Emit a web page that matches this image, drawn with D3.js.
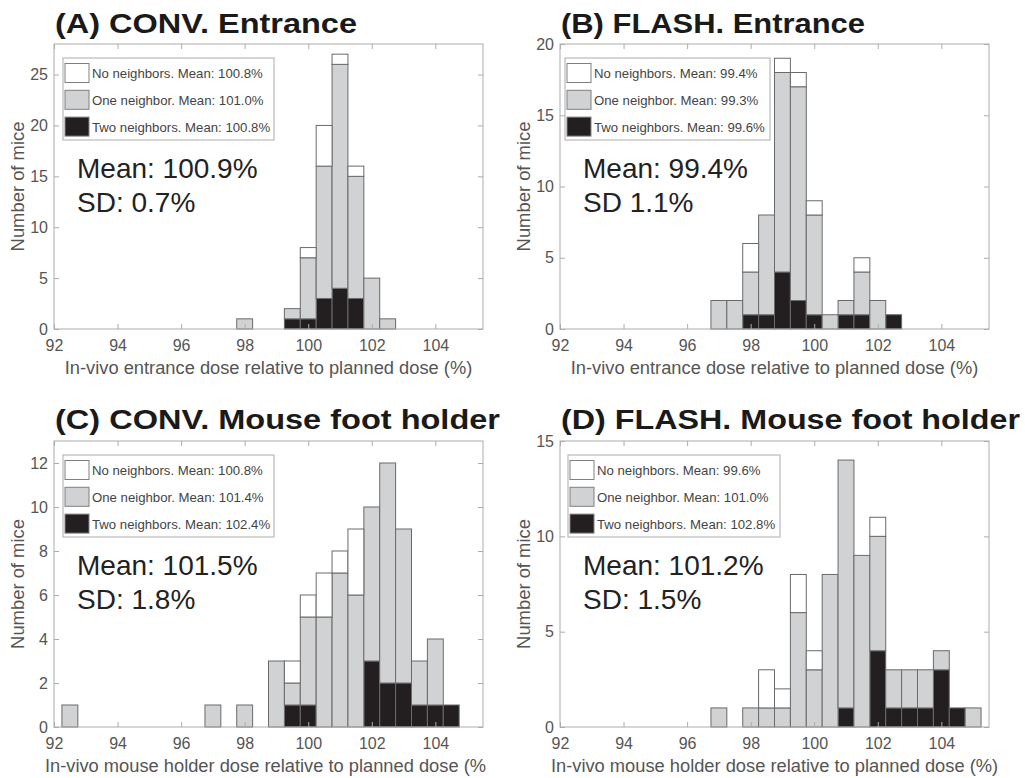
<!DOCTYPE html>
<html>
<head>
<meta charset="utf-8">
<script src="https://cdn.jsdelivr.net/npm/d3@7"></script>
<style>
  body { margin: 0; background: #fff; }
  text { font-family: "Liberation Sans", Arial, Helvetica, sans-serif; }
</style>
</head>
<body>
<div id="chart"></div>
<script>
// bin centers (%), bin width 0.5
const binsA = [98, 99.5, 100, 100.5, 101, 101.5, 102, 102.5];
const twoA  = [0, 1, 1, 3, 4, 3, 0, 0];
const oneA  = [1, 1, 6, 13, 22, 12, 5, 1];
const noneA = [0, 0, 1, 4, 1, 1, 0, 0];

const binsB = [97, 97.5, 98, 98.5, 99, 99.5, 100, 100.5, 101, 101.5, 102, 102.5];
const twoB  = [0, 0, 1, 1, 4, 2, 1, 0, 1, 1, 0, 1];
const oneB  = [2, 2, 3, 7, 14, 15, 7, 1, 1, 3, 2, 0];
const noneB = [0, 0, 2, 0, 1, 1, 1, 0, 0, 1, 0, 0];

const binsC = [92.5, 97, 98, 99, 99.5, 100, 100.5, 101, 101.5, 102, 102.5, 103, 103.5, 104, 104.5];
const twoC  = [0, 0, 0, 0, 1, 1, 0, 0, 0, 3, 2, 2, 1, 1, 1];
const oneC  = [1, 1, 1, 3, 1, 4, 5, 7, 6, 7, 10, 7, 2, 3, 0];
const noneC = [0, 0, 0, 0, 1, 1, 2, 1, 3, 0, 0, 0, 0, 0, 0];

const binsD = [97, 98, 98.5, 99, 99.5, 100, 100.5, 101, 101.5, 102, 102.5, 103, 103.5, 104, 104.5, 105];
const twoD  = [0, 0, 0, 0, 0, 0, 0, 1, 0, 4, 1, 1, 1, 3, 1, 0];
const oneD  = [1, 1, 1, 1, 6, 3, 8, 13, 9, 6, 2, 2, 2, 1, 0, 1];
const noneD = [0, 0, 2, 1, 2, 1, 0, 0, 0, 1, 0, 0, 0, 0, 0, 0];

const xTicks = [92, 94, 96, 98, 100, 102, 104];
const titles = ["(A) CONV. Entrance", "(B) FLASH. Entrance", "(C) CONV. Mouse foot holder", "(D) FLASH. Mouse foot holder"];
const xLabels = ["In-vivo entrance dose relative to planned dose (%)",
                 "In-vivo entrance dose relative to planned dose (%)",
                 "In-vivo mouse holder dose relative to planned dose (%)",
                 "In-vivo mouse holder dose relative to planned dose (%)"];
const legendMeans = [["100.8%", "101.0%", "100.8%"], ["99.4%", "99.3%", "99.6%"],
                     ["100.8%", "101.4%", "102.4%"], ["99.6%", "101.0%", "102.8%"]];
const meanTexts = ["Mean: 100.9%", "Mean: 99.4%", "Mean: 101.5%", "Mean: 101.2%"];
const sdTexts = ["SD: 0.7%", "SD 1.1%", "SD: 1.8%", "SD: 1.5%"];
const yMax = [28, 20, 13, 15];
const yTicks = [[0, 5, 10, 15, 20, 25], [0, 5, 10, 15, 20], [0, 2, 4, 6, 8, 10, 12], [0, 5, 10, 15]];

const legendNames = ["No neighbors. Mean: ", "One neighbor. Mean: ", "Two neighbors. Mean: "];
const fills = {two: "#231f20", one: "#d1d2d4", none: "#ffffff"};

const series = [
    {bins: binsA, two: twoA, one: oneA, none: noneA},
    {bins: binsB, two: twoB, one: oneB, none: noneB},
    {bins: binsC, two: twoC, one: oneC, none: noneC},
    {bins: binsD, two: twoD, one: oneD, none: noneD}
];

// plot area of each panel, page pixels
const layout = [
    {x0: 54, x1: 483, y0: 44, y1: 329, titleY: 33, legX: 63, legW: 211, clip: null},
    {x0: 560, x1: 989, y0: 44, y1: 329, titleY: 33, legX: 565, legW: 205, clip: null},
    {x0: 54, x1: 483, y0: 441, y1: 727, titleY: 429, legX: 63, legW: 211, clip: 486},
    {x0: 560, x1: 989, y0: 441, y1: 727, titleY: 429, legX: 568, legW: 212, clip: null}
];
const titleWidths = [302, 304, 445, 459];

const svg = d3.select("#chart").append("svg")
    .attr("width", 1025)
    .attr("height", 778);

const defs = svg.append("defs");

layout.forEach(function (L, i) {
    const s = series[i];
    const g = svg.append("g");

    const x = d3.scaleLinear().domain([92, 105.5]).range([L.x0, L.x1]);
    const y = d3.scaleLinear().domain([0, yMax[i]]).range([L.y1, L.y0]);

    // title (the original bold face is wider than Liberation Sans)
    g.append("text")
        .attr("x", L.x0 + 1)
        .attr("y", L.titleY)
        .attr("font-size", 28)
        .attr("font-weight", "bold")
        .attr("fill", "#1a1a1a")
        .attr("textLength", titleWidths[i])
        .attr("lengthAdjust", "spacingAndGlyphs")
        .text(titles[i]);

    // stacked bars
    const rows = s.bins.map((b, k) => ({bin: b, two: s.two[k], one: s.one[k], none: s.none[k]}));
    const stacked = d3.stack().keys(["two", "one", "none"])(rows);

    stacked.forEach(function (layer) {
        g.append("g")
            .selectAll("rect")
            .data(layer.filter(d => d[1] > d[0]))
            .enter()
            .append("rect")
            .attr("x", d => x(d.data.bin - 0.25))
            .attr("width", d => x(d.data.bin + 0.25) - x(d.data.bin - 0.25))
            .attr("y", d => y(d[1]))
            .attr("height", d => y(d[0]) - y(d[1]))
            .attr("fill", fills[layer.key])
            .attr("stroke", "#6a6a6a")
            .attr("stroke-width", 1);
    });

    // box
    g.append("rect")
        .attr("x", L.x0).attr("y", L.y0)
        .attr("width", L.x1 - L.x0).attr("height", L.y1 - L.y0)
        .attr("fill", "none")
        .attr("stroke", "#acacac")
        .attr("stroke-width", 1);

    // axes with inward ticks
    const axColor = "#555";
    const xb = g.append("g")
        .attr("transform", "translate(0," + L.y1 + ")")
        .call(d3.axisBottom(x).tickValues(xTicks).tickSizeInner(-5).tickSizeOuter(0).tickPadding(11));
    const xt = g.append("g")
        .attr("transform", "translate(0," + L.y0 + ")")
        .call(d3.axisTop(x).tickValues(xTicks).tickSizeInner(-5).tickSizeOuter(0).tickFormat(""));
    const yl = g.append("g")
        .attr("transform", "translate(" + L.x0 + ",0)")
        .call(d3.axisLeft(y).tickValues(yTicks[i]).tickSizeInner(-5).tickSizeOuter(0).tickPadding(6));
    const yr = g.append("g")
        .attr("transform", "translate(" + L.x1 + ",0)")
        .call(d3.axisRight(y).tickValues(yTicks[i]).tickSizeInner(-5).tickSizeOuter(0).tickFormat(""));

    [xb, xt, yl, yr].forEach(function (a) {
        a.select(".domain").remove();
        a.selectAll("line").attr("stroke", "#acacac");
        a.selectAll("text")
            .attr("font-size", 16)
            .attr("fill", axColor)
            .style("font-family", "'Liberation Sans', Arial, sans-serif");
    });

    // axis labels
    let labelParent = g;
    if (L.clip) {
        defs.append("clipPath").attr("id", "clip" + i)
            .append("rect").attr("x", 0).attr("y", 0).attr("width", L.clip).attr("height", 778);
        labelParent = g.append("g").attr("clip-path", "url(#clip" + i + ")");
    }
    labelParent.append("text")
        .attr("x", (L.x0 + L.x1) / 2)
        .attr("y", L.y1 + 45)
        .attr("text-anchor", "middle")
        .attr("font-size", 18.3)
        .attr("fill", axColor)
        .text(xLabels[i]);

    g.append("text")
        .attr("transform", "translate(" + (L.x0 - 30) + "," + ((L.y0 + L.y1) / 2) + ") rotate(-90)")
        .attr("text-anchor", "middle")
        .attr("font-size", 18.4)
        .attr("fill", axColor)
        .text("Number of mice");

    // legend
    const legTop = L.y0 + 14;
    const leg = g.append("g");
    leg.append("rect")
        .attr("x", L.legX).attr("y", legTop)
        .attr("width", L.legW).attr("height", 82)
        .attr("fill", "#fff")
        .attr("stroke", "#acacac");
    ["none", "one", "two"].forEach(function (key, k) {
        const cy = legTop + 15 + k * 26.8;
        leg.append("rect")
            .attr("x", L.legX + 2).attr("y", cy - 9.5)
            .attr("width", 24).attr("height", 19)
            .attr("fill", fills[key])
            .attr("stroke", "#808080");
        leg.append("text")
            .attr("x", L.legX + 29).attr("y", cy + 5)
            .attr("font-size", 13.2)
            .attr("fill", "#444")
            .text(legendNames[k] + legendMeans[i][k]);
    });

    // summary text
    g.append("text")
        .attr("x", L.x0 + 23)
        .attr("y", L.y0 + 134)
        .attr("font-size", 28)
        .attr("fill", "#222")
        .text(meanTexts[i]);
    g.append("text")
        .attr("x", L.x0 + 23)
        .attr("y", L.y0 + 168)
        .attr("font-size", 28)
        .attr("fill", "#222")
        .text(sdTexts[i]);
});
</script>
</body>
</html>
